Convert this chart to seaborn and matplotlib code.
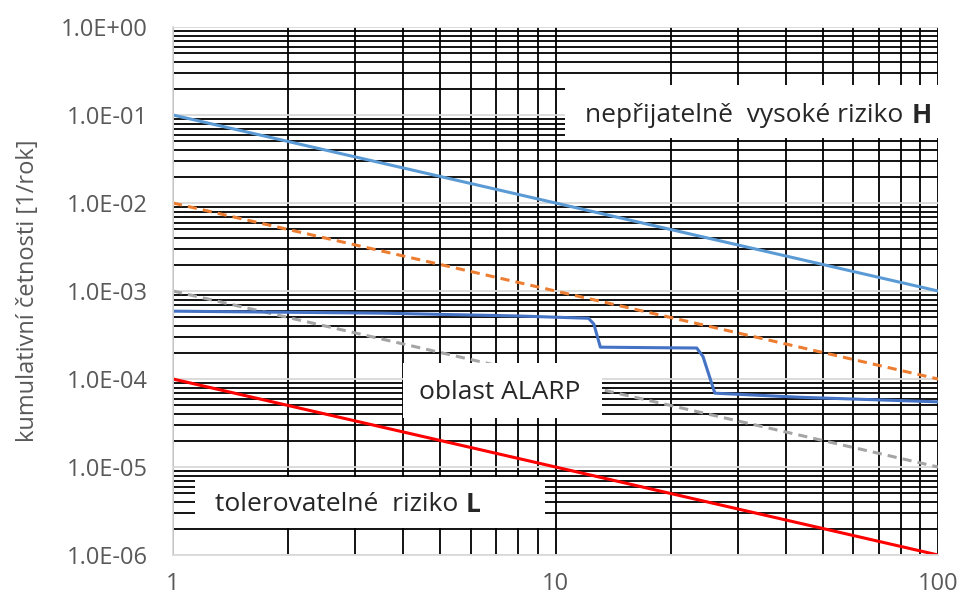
import numpy as np
import pandas as pd
import matplotlib
matplotlib.use("Agg")
import matplotlib.pyplot as plt
import matplotlib.ticker as mticker
from matplotlib.patches import Rectangle
import seaborn as sns

# limit lines (F-N curve boundaries)
x_lim = [1, 100]
y_high = [1e-1, 1e-3]     # unacceptable boundary
y_orange = [1e-2, 1e-4]
y_gray = [1e-3, 1e-5]
y_low = [1e-4, 1e-6]      # tolerable boundary

# computed cumulative frequency curve
x_fn = [1, 3.5, 8, 12.2, 12.6, 13.1, 18, 23.4, 24.3, 26.1, 43.6, 100]
y_fn = [5.9e-4, 5.6e-4, 5.2e-4, 4.9e-4, 4.2e-4, 2.3e-4, 2.27e-4, 2.25e-4, 1.8e-4,
        6.9e-5, 6.2e-5, 5.5e-5]

x_ticks = [1, 10, 100]
y_ticks = [1e-6, 1e-5, 1e-4, 1e-3, 1e-2, 1e-1, 1]

sns.set_style("white")
plt.rcParams['font.family'] = ['Open Sans', 'DejaVu Sans']

fig = plt.figure(figsize=(9.65, 5.99), dpi=100)
ax = fig.add_axes([173/965, 44/599, 765/965, 528/599])

sns.lineplot(x=x_lim, y=y_high, ax=ax, color="#5B9BD5", lw=2.2)
sns.lineplot(x=x_lim, y=y_orange, ax=ax, color="#ED7D31", lw=2.2, linestyle=(0, (3, 2)))
sns.lineplot(x=x_lim, y=y_gray, ax=ax, color="#A5A5A5", lw=2.2, linestyle=(0, (3, 2)))
sns.lineplot(x=x_lim, y=y_low, ax=ax, color="#FF0000", lw=2.2)
sns.lineplot(x=x_fn, y=y_fn, ax=ax, color="#4472C4", lw=2.2, sort=False)

ax.set_xscale("log")
ax.set_yscale("log")
ax.set_xlim(1, 100)
ax.set_ylim(1e-6, 1)

ax.xaxis.set_major_locator(mticker.FixedLocator(x_ticks))
ax.xaxis.set_major_formatter(mticker.FixedFormatter([str(v) for v in x_ticks]))
ax.xaxis.set_minor_locator(mticker.LogLocator(base=10, subs=np.arange(1, 10), numticks=20))
ax.xaxis.set_minor_formatter(mticker.NullFormatter())
ax.xaxis.remove_overlapping_locs = False

ax.yaxis.set_major_locator(mticker.FixedLocator(y_ticks))
ax.yaxis.set_major_formatter(mticker.FuncFormatter(lambda v, p: "%.1E" % v))
ax.yaxis.set_minor_locator(mticker.LogLocator(base=10, subs=np.arange(2, 10), numticks=20))
ax.yaxis.set_minor_formatter(mticker.NullFormatter())

ax.grid(which="major", color="#D9D9D9", lw=1.3)
ax.grid(which="minor", color="black", lw=1.3)
ax.set_axisbelow(True)

ax.tick_params(axis="both", which="major", direction="out", length=6, width=1,
               color="#BFBFBF", labelcolor="#595959", labelsize=17)
ax.tick_params(axis="x", which="major", pad=6)
ax.tick_params(axis="y", which="major", pad=12)
ax.tick_params(axis="both", which="minor", length=0)

for s in ["top", "right"]:
    ax.spines[s].set_visible(False)
for s in ["left", "bottom"]:
    ax.spines[s].set_color("#D9D9D9")
    ax.spines[s].set_linewidth(1.3)

ax.set_xlabel("")
ax.set_ylabel("kumulativní četnosti [1/rok]", fontsize=17, color="#595959")
ax.yaxis.set_label_coords(-0.174, 0.5)

# white label boxes over the grid
boxes = [(0.512, 0.790, 0.493, 0.100), (0.301, 0.259, 0.260, 0.105), (0.029, 0.051, 0.457, 0.097)]
for bx, by, bw, bh in boxes:
    ax.add_patch(Rectangle((bx, by), bw, bh, transform=ax.transAxes, facecolor="white",
                           edgecolor="none", zorder=3, clip_on=False))

tk = dict(transform=ax.transAxes, fontsize=19, color="#262626", va="center", zorder=4)
ax.text(0.954, 0.833, "nepřijatelně  vysoké riziko", ha="right", **tk)
ax.text(0.965, 0.833, "H", ha="left", fontweight="bold", **tk)
ax.text(0.427, 0.307, "oblast ALARP", ha="center", **tk)
ax.text(0.3725, 0.0947, "tolerovatelné  riziko", ha="right", **tk)
ax.text(0.383, 0.0947, "L", ha="left", fontweight="bold", **tk)

fig.savefig("out.png", dpi=100)
